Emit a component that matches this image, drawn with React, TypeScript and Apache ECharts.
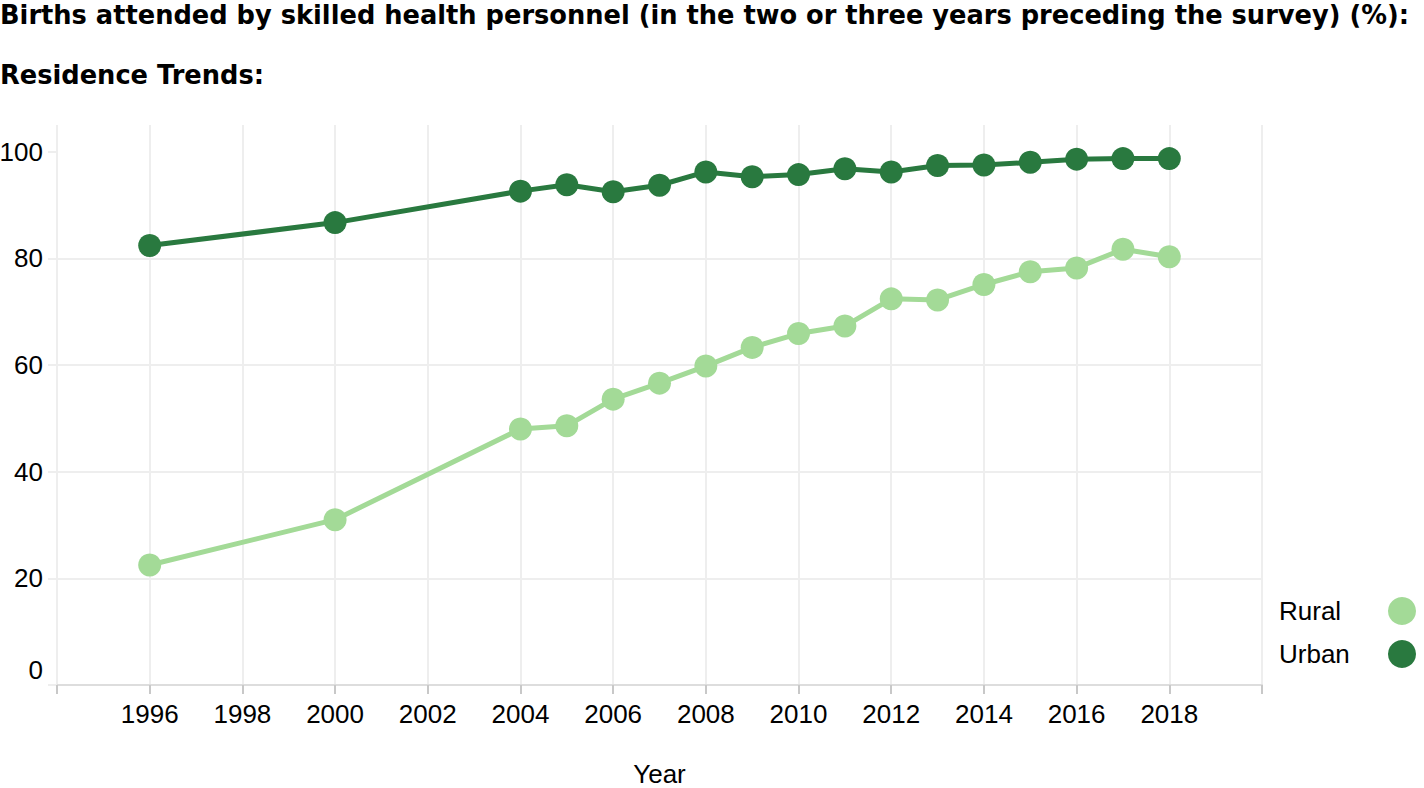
import React, { useEffect, useRef } from "react";
import * as echarts from "echarts";

const titleLine1 =
  "Births attended by skilled health personnel (in the two or three years preceding the survey) (%):";
const titleLine2 = "Residence Trends:";

const years = [1996, 2000, 2004, 2005, 2006, 2007, 2008, 2009, 2010, 2011, 2012, 2013, 2014, 2015, 2016, 2017, 2018];
const rural = [22.5, 31.0, 48.0, 48.6, 53.6, 56.6, 59.8, 63.3, 65.9, 67.3, 72.4, 72.2, 75.1, 77.5, 78.2, 81.7, 80.3];
const urban = [82.4, 86.7, 92.6, 93.8, 92.5, 93.7, 96.2, 95.3, 95.7, 96.8, 96.2, 97.4, 97.5, 98.0, 98.6, 98.7, 98.7];

const xTickLabels = [1996, 1998, 2000, 2002, 2004, 2006, 2008, 2010, 2012, 2014, 2016, 2018];
const yTickValues = [0, 20, 40, 60, 80, 100];

const seriesNames = ["Rural", "Urban"];
const seriesColors = ["#a3da97", "#29793f"];

const FONT = "'Liberation Sans', Arial, Helvetica, sans-serif";
const TITLE_FONT = "'DejaVu Sans', 'Liberation Sans', Arial, sans-serif";

export default function App() {
  const ref = useRef<HTMLDivElement>(null);

  useEffect(() => {
    if (!ref.current) return;
    const chart = echarts.init(ref.current, undefined, { renderer: "svg" });
    const toPairs = (vals: number[]) => years.map((y, i) => [y, vals[i]]);
    chart.setOption({
      animation: false,
      backgroundColor: "#ffffff",
      title: [
        {
          text: titleLine1,
          left: 0,
          top: 2,
          padding: 0,
          textStyle: { fontFamily: TITLE_FONT, fontWeight: "bold", fontSize: 25.7, color: "#000" },
        },
        {
          text: titleLine2,
          left: 0,
          top: 62,
          padding: 0,
          textStyle: { fontFamily: TITLE_FONT, fontWeight: "bold", fontSize: 25.7, color: "#000" },
        },
      ],
      legend: {
        data: seriesNames,
        right: 8,
        top: 597,
        orient: "vertical",
        align: "right",
        padding: 0,
        itemGap: 15,
        itemWidth: 28,
        itemHeight: 28,
        icon: "circle",
        formatter: (name: string) => `{n|${name}}`,
        textStyle: {
          fontFamily: FONT,
          fontSize: 26,
          color: "#000",
          rich: { n: { width: 104, align: "left", fontFamily: FONT, fontSize: 26, color: "#000" } },
        },
      },
      grid: { left: 57, right: 162, top: 125, bottom: 103, containLabel: false, outerBoundsMode: "none" },
      xAxis: {
        type: "value",
        min: 1994,
        max: 2020,
        interval: 2,
        name: "Year",
        nameLocation: "middle",
        nameGap: 76,
        nameTextStyle: { fontFamily: FONT, fontSize: 26, color: "#000" },
        axisLine: { show: true, lineStyle: { color: "#dddddd", width: 2 } },
        axisTick: { show: true, length: 9, lineStyle: { color: "#c8c8c8", width: 2 } },
        axisLabel: {
          customValues: xTickLabels,
          margin: 16,
          fontFamily: FONT,
          fontSize: 26,
          color: "#000",
          formatter: (v: number) => String(v),
        },
        splitLine: { show: true, lineStyle: { color: "#eeeeee", width: 2 } },
      },
      yAxis: {
        type: "value",
        min: 0,
        max: 105,
        interval: 20,
        axisLine: { show: false },
        axisTick: { show: true, length: 9, customValues: yTickValues, lineStyle: { color: "#eeeeee", width: 2 } },
        axisLabel: {
          customValues: yTickValues,
          margin: 14,
          fontFamily: FONT,
          fontSize: 26,
          color: "#000",
          formatter: (v: number) => (v === 0 ? "{z|0}" : String(v)),
          rich: { z: { fontFamily: FONT, fontSize: 26, color: "#000", padding: [0, 0, 30, 0] } },
        },
        splitLine: { show: true, showMaxLine: false, lineStyle: { color: "#eeeeee", width: 2 } },
      },
      series: [
        {
          name: seriesNames[0],
          type: "line",
          data: toPairs(rural),
          symbol: "circle",
          symbolSize: 23,
          lineStyle: { width: 5, color: seriesColors[0] },
          itemStyle: { color: seriesColors[0] },
          z: 2,
        },
        {
          name: seriesNames[1],
          type: "line",
          data: toPairs(urban),
          symbol: "circle",
          symbolSize: 23,
          lineStyle: { width: 5, color: seriesColors[1] },
          itemStyle: { color: seriesColors[1] },
          z: 3,
        },
      ],
    });
    return () => chart.dispose();
  }, []);

  return (
    <div
      ref={ref}
      style={{ position: "fixed", left: 0, top: 0, width: 1424, height: 788 }}
    />
  );
}
